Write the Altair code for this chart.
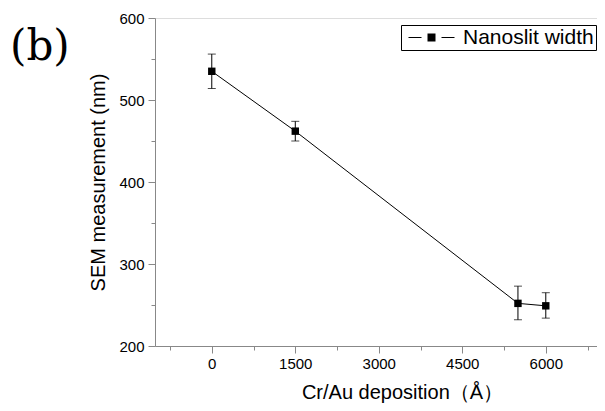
import altair as alt
import pandas as pd

# ---- data ----
deposition = [0, 1500, 5500, 6000]          # Cr/Au deposition (Å)
width_nm = [535, 462, 252, 249]             # SEM measurement (nm)
err_lo = [514, 450, 232, 234]
err_hi = [556, 474, 273, 265]
series = ["Nanoslit width"] * 4

x_tick_values = [-750, 0, 750, 1500, 2250, 3000, 3750, 4500, 5250, 6000, 6750]
y_tick_values = [200, 250, 300, 350, 400, 450, 500, 550, 600]

df = pd.DataFrame({
    "dep": deposition,
    "w": width_nm,
    "lo": err_lo,
    "hi": err_hi,
    "series": series,
})

FONT = "Liberation Sans, Arial, Noto Sans CJK KR"
AXIS_COLOR = "#333333"

x_axis = alt.Axis(
    title="Cr/Au deposition（Å）",
    values=x_tick_values,
    format="d",
    labelExpr="datum.value % 1500 === 0 ? datum.label : ''",
    tickSize={"condition": {"test": "datum.value % 1500 === 0", "value": 7}, "value": 4},
    grid=False,
    labelFontSize=15,
    labelPadding=3,
    titleFontSize=20,
    titleFontWeight="normal",
    titleX=247,
    titleY=52,
    titleBaseline="alphabetic",
)
y_axis = alt.Axis(
    title="SEM measurement (nm)",
    values=y_tick_values,
    labelExpr="datum.value % 100 === 0 ? datum.label : ''",
    tickSize={"condition": {"test": "datum.value % 100 === 0", "value": 7}, "value": 4},
    grid=False,
    labelFontSize=15,
    labelPadding=4,
    titleFontSize=20,
    titleFontWeight="normal",
    titleX=-57,
    titleBaseline="middle",
)

X = alt.X("dep:Q", scale=alt.Scale(domain=[-1020, 6920], nice=False, zero=False), axis=x_axis)
Y = alt.Y("w:Q", scale=alt.Scale(domain=[200, 600], nice=False, zero=False), axis=y_axis)

base = alt.Chart(df)

line = base.mark_line(color="black", strokeWidth=1).encode(x=X, y=Y)

err = base.mark_errorbar(
    ticks=alt.MarkConfig(size=8, color="black", strokeWidth=1),
    rule=alt.MarkConfig(color="black", strokeWidth=1),
    color="black",
).encode(
    x=X,
    y=alt.Y("lo:Q", scale=alt.Scale(domain=[200, 600], nice=False, zero=False), axis=y_axis),
    y2="hi:Q",
)

SYMBOL = "M-23,-0.55H-10V0.55H-23Z M10,-0.55H23V0.55H10Z M-4,-4H4V4H-4Z"

points = base.mark_square(size=55, opacity=1, filled=True).encode(
    x=X,
    y=Y,
    color=alt.Color(
        "series:N",
        scale=alt.Scale(range=["black"]),
        legend=alt.Legend(
            title=None,
            orient="none",
            legendX=246,
            legendY=7,
            symbolType=SYMBOL,
            symbolSize=4,
            symbolFillColor="black",
            symbolStrokeWidth=0,
            symbolOffset=18,
            labelOffset=21,
            labelFontSize=21,
            labelFont=FONT,
            labelColor="black",
            padding=2,
            strokeColor="black",
            fillColor="white",
            cornerRadius=0,
        ),
    ),
)

label_b = alt.Chart(pd.DataFrame({"t": ["(b)"]})).mark_text(
    font="DejaVu Serif", fontSize=42, align="left", baseline="alphabetic", color="black"
).encode(x=alt.value(-145), y=alt.value(42), text="t:N")

chart = alt.layer(line, err, points, label_b).properties(
    width=442,
    height=328,
    autosize=alt.AutoSizeParams(type="none"),
    padding={"left": 147, "top": 10, "right": 0, "bottom": 57},
).configure_view(
    stroke="black", strokeWidth=1
).configure_axis(
    labelFont=FONT,
    titleFont=FONT,
    labelColor="black",
    titleColor="black",
    domainColor=AXIS_COLOR,
    domainWidth=1.6,
    tickColor=AXIS_COLOR,
    tickWidth=1.2,
).configure(background="white")

chart.save("out.html", embed_options={"renderer": "svg", "actions": False})
